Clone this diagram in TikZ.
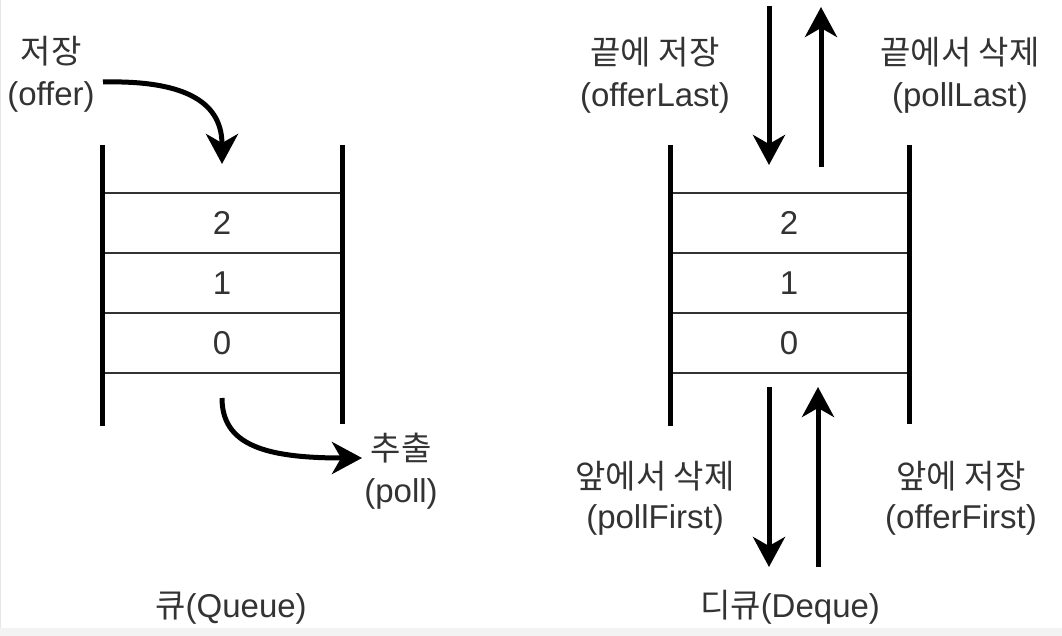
\documentclass[tikz,border=0pt]{standalone}
\usepackage{fontspec}
\setmainfont{Liberation Sans}
\newfontfamily\kr{Noto Sans CJK KR}
\usetikzlibrary{arrows.meta}
\definecolor{txt}{HTML}{333333}
\definecolor{strip}{HTML}{F3F3F3}
\definecolor{edge}{HTML}{E6E6E6}
\begin{document}
\begin{tikzpicture}[x=1pt,y=-1pt,
  wall/.style={line width=5pt},
  sep/.style={line width=2pt, draw=txt},
  cellnode/.style={minimum width=235pt, minimum height=60pt, inner sep=0pt, text=txt, font=\fontsize{33}{40}\selectfont},
  lbl/.style={text=txt, font=\fontsize{33}{42}\selectfont, align=center, inner sep=0pt},
  arr/.style={line width=5pt, -{Stealth[length=30pt,width=32pt,inset=9pt]}}]
% canvas
\useasboundingbox (0,0) rectangle (1062,636);
\fill[white] (0,0) rectangle (1062,636);
\fill[strip] (0,628) rectangle (1062,636);
\draw[edge, line width=1pt] (0.5,0) -- (0.5,628);

% ---------- Queue ----------
\node[cellnode] (q2) at (222,223) {2};
\node[cellnode] (q1) at (222,283) {1};
\node[cellnode] (q0) at (222,343) {0};
\draw[sep] (q2.north west) -- (q2.north east);
\draw[sep] (q2.south west) -- (q2.south east);
\draw[sep] (q1.south west) -- (q1.south east);
\draw[sep] (q0.south west) -- (q0.south east);
\draw[wall] (102,145) -- (102,426);
\draw[wall] (342,145) -- (342,424);

\node[lbl] (offerL) at (51,74) {{\kr 저장}\\(offer)};
\node[lbl] (pollL) at (401,471) {{\kr 추출}\\(poll)};
\node[lbl] (qcap) at (231,608) {{\kr 큐}(Queue)};

\coordinate (os) at (103,82);
\coordinate (oe) at (222,164);
\draw[arr] (os) .. controls (190,80) and (222,105) .. (oe);
\coordinate (ps) at (222,398);
\coordinate (pe) at (362,458);
\draw[arr] (ps) .. controls (222,445) and (265,458) .. (pe);

% ---------- Deque ----------
\node[cellnode] (d2) at (789,223) {2};
\node[cellnode] (d1) at (789,283) {1};
\node[cellnode] (d0) at (789,343) {0};
\draw[sep] (d2.north west) -- (d2.north east);
\draw[sep] (d2.south west) -- (d2.south east);
\draw[sep] (d1.south west) -- (d1.south east);
\draw[sep] (d0.south west) -- (d0.south east);
\draw[wall] (670,145) -- (670,426);
\draw[wall] (909,145) -- (909,424);

\node[lbl] (olast) at (655,75) {{\kr 끝에 저장}\\(offerLast)};
\node[lbl] (plast) at (960,75) {{\kr 끝에서 삭제}\\(pollLast)};
\node[lbl] (pfirst) at (655,498) {{\kr 앞에서 삭제}\\[-2pt](pollFirst)};
\node[lbl] (ofirst) at (961,498) {{\kr 앞에 저장}\\[-2pt](offerFirst)};
\node[lbl] (dcap) at (790,607) {{\kr 디큐}(Deque)};

\coordinate (a1s) at (769,6);
\coordinate (a1e) at (769,165);
\coordinate (a2s) at (821,167);
\coordinate (a2e) at (821,7);
\coordinate (a3s) at (769,387);
\coordinate (a3e) at (769,567);
\coordinate (a4s) at (818,567);
\coordinate (a4e) at (818,387);
\draw[arr] (a1s) -- (a1e);
\draw[arr] (a2s) -- (a2e);
\draw[arr] (a3s) -- (a3e);
\draw[arr] (a4s) -- (a4e);
\end{tikzpicture}
\end{document}
